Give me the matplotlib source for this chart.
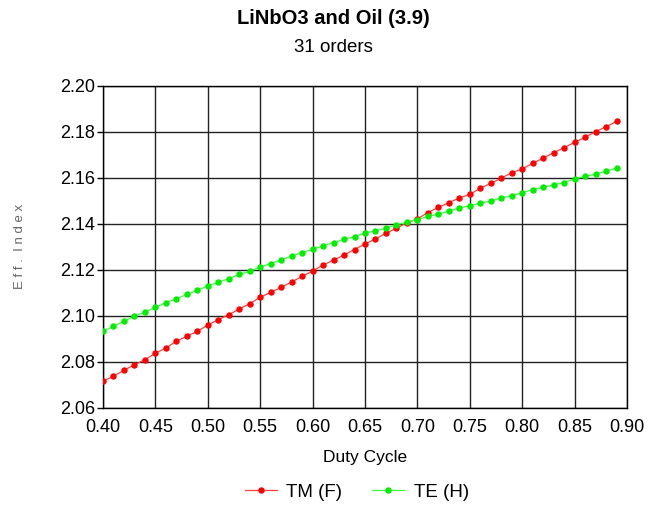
import numpy as np
import matplotlib
matplotlib.use("Agg")
import matplotlib.pyplot as plt

plt.rcParams['font.family'] = ['Liberation Sans', 'DejaVu Sans']

duty = [0.40, 0.41, 0.42, 0.43, 0.44, 0.45, 0.46, 0.47, 0.48, 0.49,
        0.50, 0.51, 0.52, 0.53, 0.54, 0.55, 0.56, 0.57, 0.58, 0.59,
        0.60, 0.61, 0.62, 0.63, 0.64, 0.65, 0.66, 0.67, 0.68, 0.69,
        0.70, 0.71, 0.72, 0.73, 0.74, 0.75, 0.76, 0.77, 0.78, 0.79,
        0.80, 0.81, 0.82, 0.83, 0.84, 0.85, 0.86, 0.87, 0.88, 0.89]

tm_f = [2.0716, 2.0738, 2.0764, 2.0788, 2.0810, 2.0838, 2.0861, 2.0890, 2.0912, 2.0933,
        2.0961, 2.0984, 2.1006, 2.1030, 2.1054, 2.1081, 2.1103, 2.1124, 2.1148, 2.1172,
        2.1196, 2.1221, 2.1243, 2.1265, 2.1289, 2.1313, 2.1335, 2.1360, 2.1381, 2.1406,
        2.1422, 2.1450, 2.1472, 2.1493, 2.1513, 2.1529, 2.1555, 2.1577, 2.1599, 2.1623,
        2.1639, 2.1664, 2.1686, 2.1710, 2.1732, 2.1755, 2.1777, 2.1801, 2.1823, 2.1846]

te_h = [2.0933, 2.0955, 2.0977, 2.0999, 2.1017, 2.1038, 2.1058, 2.1075, 2.1094, 2.1112,
        2.1130, 2.1148, 2.1162, 2.1181, 2.1194, 2.1213, 2.1228, 2.1244, 2.1261, 2.1276,
        2.1290, 2.1305, 2.1319, 2.1333, 2.1345, 2.1361, 2.1370, 2.1382, 2.1396, 2.1409,
        2.1419, 2.1433, 2.1443, 2.1456, 2.1470, 2.1479, 2.1491, 2.1500, 2.1513, 2.1523,
        2.1536, 2.1550, 2.1559, 2.1571, 2.1580, 2.1596, 2.1607, 2.1616, 2.1630, 2.1644]

xticks = [0.40, 0.45, 0.50, 0.55, 0.60, 0.65, 0.70, 0.75, 0.80, 0.85, 0.90]
yticks = [2.06, 2.08, 2.10, 2.12, 2.14, 2.16, 2.18, 2.20]

fig = plt.figure(figsize=(6.49, 5.08), dpi=100)
ax = fig.add_axes([103/649, 1-408/508, (627-103)/649, (408-86)/508])

ax.plot(duty, tm_f, color='#ff4040', lw=0.9, marker='o', ms=3.6,
        mfc='#ff0000', mec='#ff0000', label='TM (F)', zorder=3)
ax.plot(duty, te_h, color='#40ff40', lw=0.9, marker='o', ms=3.6,
        mfc='#00ee00', mec='#00ee00', label='TE (H)', zorder=3)

ax.set_xlim(0.40, 0.90)
ax.set_ylim(2.06, 2.20)
ax.set_xticks(xticks)
ax.set_yticks(yticks)
ax.set_xticklabels([f"{v:.2f}" for v in xticks])
ax.set_yticklabels([f"{v:.2f}" for v in yticks])
ax.tick_params(labelsize=13, length=4, width=1, color='black', direction='out', pad=1.5)
ax.tick_params(axis='x', length=0, pad=8)
ax.grid(True, color='#222222', lw=1)
ax.set_axisbelow(True)
for s in ax.spines.values():
    s.set_color('black')
    s.set_linewidth(1)

ax.set_xlabel('Duty Cycle', fontsize=12.5, labelpad=10)
fig.text(20/649, 1-246/508, 'E f f .  I n d e x', rotation=90, fontsize=9.5,
         color='#666666', ha='center', va='center')

fig.text(333/649, 1-18/508, 'LiNbO3 and Oil (3.9)', fontsize=14.5, fontweight='bold',
         ha='center', va='center')
fig.text(333/649, 1-47/508, '31 orders', fontsize=13.5, ha='center', va='center')

fig.legend(loc='center', bbox_to_anchor=(357/649, 1-492/508), ncol=2, frameon=False,
           fontsize=13.5, handlelength=1.7, columnspacing=1.6, handletextpad=0.5)

fig.savefig('out.png', dpi=100)
